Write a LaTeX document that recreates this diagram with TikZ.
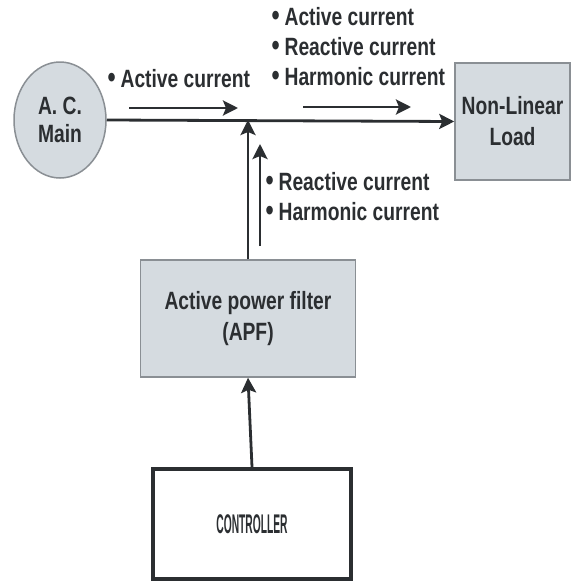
\documentclass[tikz,border=0pt]{standalone}
\usepackage{fontspec}
\setmainfont{Liberation Sans}[FakeStretch=0.77]
\newfontfamily\ctrlfont[FakeStretch=0.38]{Liberation Sans}
\usepackage{xcolor}
\usetikzlibrary{shapes,arrows.meta,positioning,calc,shapes.geometric}

\definecolor{boxfill}{HTML}{D5DBE0}
\definecolor{boxline}{HTML}{8A8F94}
\definecolor{inkdark}{HTML}{2B2E31}

\newcommand{\dotitem}{{\fontsize{30}{30}\selectfont\textbullet}\hspace{5pt}}

\begin{document}
\begin{tikzpicture}[
    x=1pt, y=-1pt,
    >={Stealth[length=15pt,width=15pt,inset=3pt]},
    source/.style={ellipse, draw=boxline, line width=1.5pt, fill=boxfill, minimum width=92pt, minimum height=116pt, align=center, font=\bfseries\fontsize{25}{28}\selectfont, text=inkdark},
    block/.style={rectangle, draw=boxline, line width=1.5pt, fill=boxfill, align=center, font=\bfseries\fontsize{25}{31}\selectfont, text=inkdark},
    ctrlbox/.style={rectangle, draw=inkdark, line width=4pt, fill=white, font=\ctrlfont\bfseries\fontsize{27}{28}\selectfont, text=inkdark},
    wire/.style={draw=inkdark, line width=2.8pt},
    flow/.style={->, draw=inkdark, line width=2.8pt},
    itemlist/.style={anchor=west, align=left, font=\bfseries\fontsize{25}{30}\selectfont, text=inkdark}
]
\useasboundingbox (0,0) rectangle (573,581);

% Blocks
\node[source] (acmain) at (60,120) {A. C.\\Main};
\node[block, minimum width=115pt, minimum height=117pt] (load) at (512.5,121.5) {Non-Linear\\Load};
\node[block, minimum width=215pt, minimum height=117pt] (apf) at (248,318.5) {Active power filter\\(APF)};
\node[ctrlbox, minimum width=198pt, minimum height=110pt] (ctrl) at (252,524) {CONTROLLER};

% Lines
\coordinate (joint) at (apf.north |- acmain.east);
\draw[wire, ->] (acmain.east) -- (load.west);
\draw[flow] (apf.north) -- (joint);
\draw[flow] (ctrl.north) -- (apf.south);

% Current direction markers
\coordinate (leftA) at (129,108);
\coordinate (leftB) at (238,108);
\coordinate (rightA) at (303,107);
\coordinate (rightB) at (411,107);
\coordinate (upA) at (260,246);
\coordinate (upB) at (260,144);
\draw[flow] (leftA) -- (leftB);
\draw[flow] (rightA) -- (rightB);
\draw[flow] (upA) -- (upB);

% Labels
\node[itemlist] (lblsource) at (104,79) {\dotitem Active current};
\node[itemlist] (lblload) at (268,47) {\dotitem Active current\\\dotitem Reactive current\\\dotitem Harmonic current};
\node[itemlist] (lblfilter) at (262,196.5) {\dotitem Reactive current\\\dotitem Harmonic current};

\end{tikzpicture}
\end{document}
